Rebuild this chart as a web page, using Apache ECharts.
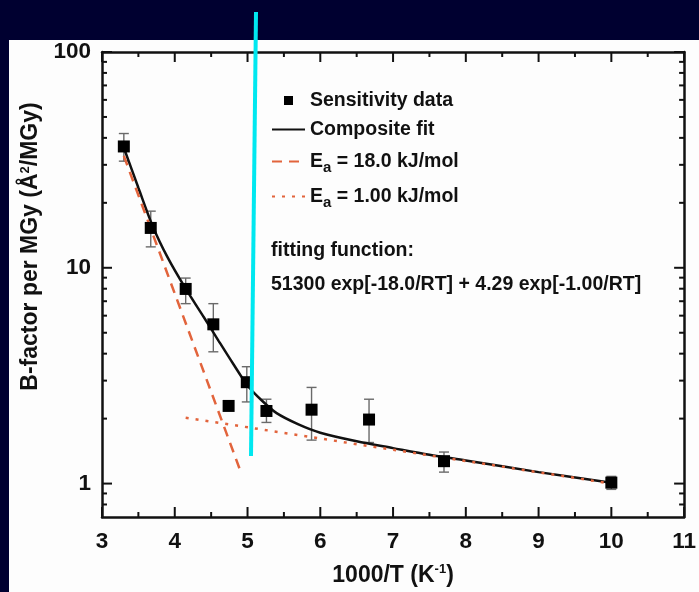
<!DOCTYPE html>
<html><head><meta charset="utf-8">
<script src="https://cdn.jsdelivr.net/npm/echarts@6/dist/echarts.min.js"></script>
<style>html,body{margin:0;padding:0;background:#000030;} #c{width:699px;height:592px;}</style>
</head><body><div id="c"></div>
<script>
// Sensitivity data (1000/T, B-factor per MGy) with error bars
const dataX   = [3.30, 3.67, 4.15, 4.53, 4.74, 4.99, 5.26, 5.88, 6.67, 7.70, 10.0];
const dataY   = [36.5, 15.3, 7.98, 5.47, 2.29, 2.95, 2.17, 2.20, 1.98, 1.27, 1.01];
const errHigh = [41.9, 18.3, 8.96, 6.82, null, 3.48, 2.46, 2.79, 2.46, 1.40, 1.08];
const errLow  = [31.2, 12.5, 6.82, 4.08, null, 2.39, 1.92, 1.59, 1.55, 1.13, 0.94];
// Composite fit curve
const fitX = [3.3, 3.5, 3.7, 3.9, 4.15, 4.4, 4.6, 4.8, 5.0, 5.2, 5.4, 5.7, 6.0, 6.5, 7.0, 7.5, 8.0, 9.0, 10.0];
const fitY = [36, 23.5, 15.5, 11.2, 8.0, 5.9, 4.6, 3.6, 2.85, 2.42, 2.12, 1.88, 1.72, 1.57, 1.46, 1.36, 1.28, 1.13, 1.01];
// Ea = 18.0 kJ/mol component
const ea18X = [3.3, 4.90];
const ea18Y = [33, 1.15];
// Ea = 1.00 kJ/mol component
const ea1X = [4.15, 10.0];
const ea1Y = [2.02, 1.0];
// Axis ticks
const xMajor = [3, 4, 5, 6, 7, 8, 9, 10, 11];
const xMinor = [3.5, 4.5, 5.5, 6.5, 7.5, 8.5, 9.5, 10.5];
const yMajor = [1, 10, 100];
const yMinor = [0.8, 0.9, 2, 3, 4, 5, 6, 7, 8, 9, 20, 30, 40, 50, 60, 70, 80, 90];

const FONT = "'Liberation Sans', Arial, sans-serif";
const INK = '#111';
const ORANGE = '#e2643c';
const MAJOR_LEN = 10, MINOR_LEN = 5;

const chart = echarts.init(document.getElementById('c'), null, {renderer: 'canvas'});

const pairs = (xs, ys) => xs.map((x, i) => [x, ys[i]]);
const errData = dataX.map((x, i) => [x, errHigh[i], errLow[i]]).filter(d => d[1] != null);
const xTickData = xMajor.map(v => [v, 1, MAJOR_LEN]).concat(xMinor.map(v => [v, 1, MINOR_LEN]));
const yTickData = yMajor.map(v => [3, v, MAJOR_LEN]).concat(yMinor.map(v => [3, v, MINOR_LEN]));
const tickStyle = {stroke: INK, lineWidth: 2};

const axisLineStyle = {color: INK, width: 2.5};
const supRich = {
  t: {fontFamily: FONT, fontWeight: 'bold', fontSize: 23, color: INK},
  sup: {fontFamily: FONT, fontWeight: 'bold', fontSize: 13, color: INK, padding: [0, 0, 12, 0]}
};

const option = {
  darkMode: false,
  animation: false,
  grid: {left: 102, right: 11, top: 52, bottom: 68, containLabel: false},
  graphic: [
    {type: 'rect', z: -10, shape: {x: 9, y: 40, width: 690, height: 552}, style: {fill: '#fdfdfd'}},
    {type: 'text', left: 271, top: 241, z: 10, style: {text: 'fitting function:', font: 'bold 19.5px ' + FONT, fill: INK}},
    {type: 'text', left: 271, top: 275, z: 10, style: {text: '51300 exp[-18.0/RT] + 4.29 exp[-1.00/RT]', font: 'bold 19.5px ' + FONT, fill: INK}},
    {type: 'line', z: 100, shape: {x1: 256, y1: 12, x2: 251, y2: 456}, style: {stroke: '#00e8f0', lineWidth: 4}}
  ],
  legend: {
    orient: 'vertical', left: 266, top: 85, itemWidth: 33, itemHeight: 9, itemGap: 8,
    selectedMode: false,
    textStyle: {fontFamily: FONT, fontWeight: 'bold', fontSize: 19.5, color: INK, lineHeight: 21,
      rich: {
        e: {fontFamily: FONT, fontWeight: 'bold', fontSize: 19.5, color: INK, lineHeight: 21},
        s: {fontFamily: FONT, fontWeight: 'bold', fontSize: 15, color: INK, lineHeight: 17, padding: [12, 0, 0, 0]}
      }},
    formatter: function (name) {
      const m = name.match(/^Ea(.*)$/);
      if (m) return '{e|E}{s|a}{e|' + m[1] + '}';
      return name;
    },
    data: [
      {name: 'Sensitivity data', icon: 'path://M0,0h10v10h-10z', itemStyle: {opacity: 1}},
      {name: 'Composite fit', itemStyle: {opacity: 0}},
      {name: 'Ea = 18.0 kJ/mol', itemStyle: {opacity: 0}},
      {name: 'Ea = 1.00 kJ/mol', itemStyle: {opacity: 0}}
    ]
  },
  xAxis: [
    {type: 'value', min: 3, max: 11, interval: 1, position: 'bottom',
      name: '{t|1000/T (K}{sup|-1}{t|)}', nameLocation: 'middle', nameGap: 46,
      nameTextStyle: {rich: supRich},
      splitLine: {show: false},
      axisLine: {show: true, lineStyle: axisLineStyle},
      axisTick: {show: false}, minorTick: {show: false},
      axisLabel: {margin: 13, fontFamily: FONT, fontWeight: 'bold', fontSize: 22.5, color: INK}
    },
    {type: 'value', min: 3, max: 11, interval: 1, position: 'top',
      splitLine: {show: false},
      axisLine: {show: true, lineStyle: axisLineStyle},
      axisTick: {show: false}, minorTick: {show: false},
      axisLabel: {show: false}
    }
  ],
  yAxis: [
    {type: 'log', logBase: 10, min: 0.7, max: 100, position: 'left',
      name: '{t|B-factor per MGy (Å}{sup|2}{t|/MGy)}', nameLocation: 'middle', nameGap: 55,
      nameTextStyle: {padding: [0, 0, 0, 76], rich: supRich},
      splitLine: {show: false},
      axisLine: {show: true, lineStyle: axisLineStyle},
      axisTick: {show: false},
      axisLabel: {show: true, customValues: yMajor, margin: 11, fontFamily: FONT, fontWeight: 'bold', fontSize: 22.5, color: INK}
    },
    {type: 'log', logBase: 10, min: 0.7, max: 100, position: 'right',
      splitLine: {show: false},
      axisLine: {show: true, lineStyle: axisLineStyle},
      axisTick: {show: false}, axisLabel: {show: false}
    }
  ],
  series: [
    {type: 'custom', name: 'xTicks', z: 6, silent: true,
      renderItem: function (params, api) {
        const p = api.coord([api.value(0), api.value(1)]);
        const len = api.value(2);
        const cs = params.coordSys;
        const bottom = cs.y + cs.height, top = cs.y;
        return {type: 'group', children: [
          {type: 'line', shape: {x1: p[0], y1: bottom, x2: p[0], y2: bottom - len}, style: tickStyle},
          {type: 'line', shape: {x1: p[0], y1: top, x2: p[0], y2: top + len}, style: tickStyle}
        ]};
      },
      encode: {x: 0, y: 1},
      data: xTickData
    },
    {type: 'custom', name: 'yTicks', z: 6, silent: true,
      renderItem: function (params, api) {
        const p = api.coord([api.value(0), api.value(1)]);
        const len = api.value(2);
        const cs = params.coordSys;
        const left = cs.x, right = cs.x + cs.width;
        return {type: 'group', children: [
          {type: 'line', shape: {x1: left, y1: p[1], x2: left + len, y2: p[1]}, style: tickStyle},
          {type: 'line', shape: {x1: right, y1: p[1], x2: right - len, y2: p[1]}, style: tickStyle}
        ]};
      },
      encode: {x: 0, y: 1},
      data: yTickData
    },
    {type: 'custom', name: 'errors', z: 2, silent: true,
      renderItem: function (params, api) {
        const x = api.value(0);
        const top = api.coord([x, api.value(1)]);
        const bot = api.coord([x, api.value(2)]);
        const w = 5;
        const st = {stroke: '#6a6a6a', lineWidth: 1.4};
        return {type: 'group', children: [
          {type: 'line', shape: {x1: top[0], y1: top[1], x2: bot[0], y2: bot[1]}, style: st},
          {type: 'line', shape: {x1: top[0] - w, y1: top[1], x2: top[0] + w, y2: top[1]}, style: st},
          {type: 'line', shape: {x1: bot[0] - w, y1: bot[1], x2: bot[0] + w, y2: bot[1]}, style: st}
        ]};
      },
      encode: {x: 0, y: [1, 2]},
      data: errData
    },
    {type: 'line', name: 'Composite fit', z: 3, data: pairs(fitX, fitY), smooth: 0.3,
      showSymbol: false, symbol: 'none', lineStyle: {color: INK, width: 2.5}, itemStyle: {color: INK}},
    {type: 'line', name: 'Ea = 18.0 kJ/mol', z: 4, data: pairs(ea18X, ea18Y),
      showSymbol: false, symbol: 'none', lineStyle: {color: ORANGE, width: 2.5, type: [10, 7]}, itemStyle: {color: ORANGE}},
    {type: 'line', name: 'Ea = 1.00 kJ/mol', z: 4, data: pairs(ea1X, ea1Y),
      showSymbol: false, symbol: 'none', lineStyle: {color: ORANGE, width: 2.5, type: [3, 7]}, itemStyle: {color: ORANGE}},
    {type: 'scatter', name: 'Sensitivity data', z: 5, data: pairs(dataX, dataY),
      symbol: 'rect', symbolSize: 12, itemStyle: {color: '#000', opacity: 1}}
  ]
};
chart.setOption(option);
</script>
</body></html>
